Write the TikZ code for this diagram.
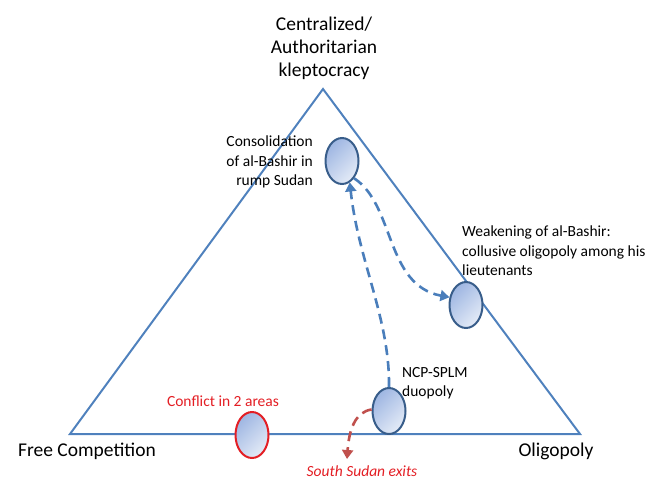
\documentclass[tikz,border=0pt]{standalone}
\usepackage{fontspec}
\setmainfont{Carlito}
\usetikzlibrary{arrows.meta,shapes.geometric}
\definecolor{triblue}{RGB}{79,129,189}
\definecolor{rimblue}{RGB}{56,93,138}
\definecolor{flowblue}{RGB}{74,126,187}
\definecolor{exitred}{RGB}{192,80,77}
\definecolor{txtred}{RGB}{227,30,36}
\definecolor{fillhi}{RGB}{158,182,226}
\definecolor{filllo}{RGB}{228,235,247}

\begin{document}
\begin{tikzpicture}[x=1pt,y=-1pt,every node/.style={inner sep=0pt},
  bubble/.style={ellipse,draw=rimblue,line width=2pt,minimum width=33pt,minimum height=46pt,
    top color=fillhi,bottom color=filllo,shading angle=45},
  big/.style={font=\fontsize{19.5}{23}\selectfont,align=center},
  small/.style={font=\fontsize{15.5}{19.5}\selectfont},
  flow/.style={flowblue,line width=2.6pt,dash pattern=on 10pt off 6pt,-{Triangle[width=11pt,length=9pt]}},
  exit/.style={flow,exitred}]
  \useasboundingbox (0,0) rectangle (660,480);
  % Triangle
  \coordinate (top) at (323,89);
  \coordinate (left) at (70,434);
  \coordinate (right) at (580,434);
  \draw[triblue,line width=2pt] (top) -- (left) -- (right) -- cycle;
  % Corner labels
  \node[big] (central) at (324,48) {Centralized/\\Authoritarian\\kleptocracy};
  \node[big] (free) at (87,451) {Free Competition};
  \node[big] (oligo) at (556,451) {Oligopoly};
  % States
  \node[bubble] (cons) at (342,161) {};
  \node[bubble] (weak) at (466,305) {};
  \node[bubble] (ncp) at (389,411) {};
  \node[bubble,draw=txtred] (conf) at (252,435) {};
  % Paths between states
  \draw[flow] (ncp.north) .. controls +(1,-68) and (358,260) .. (cons.290);
  \draw[flow] (cons.305) .. controls (395,205) and (385,285) .. (weak.155);
  \coordinate (exitend) at (347,459);
  \draw[exit] (ncp.175) .. controls (355,412) and (349,430) .. (exitend);
  % State labels
  \node[small,anchor=east,align=right] (conslbl) at (313,162) {Consolidation\\of al-Bashir in\\rump Sudan};
  \node[small,anchor=west,align=left] (weaklbl) at (462,251) {Weakening of al-Bashir:\\collusive oligopoly among his\\lieutenants};
  \node[small,anchor=west,align=left] (ncplbl) at (402,383) {NCP-SPLM\\duopoly};
  \node[small,txtred] (conflbl) at (223,401) {Conflict in 2 areas};
  \node[small,txtred,font=\fontsize{15.5}{19.5}\selectfont\itshape] (exits) at (362,471) {South Sudan exits};
\end{tikzpicture}
\end{document}
